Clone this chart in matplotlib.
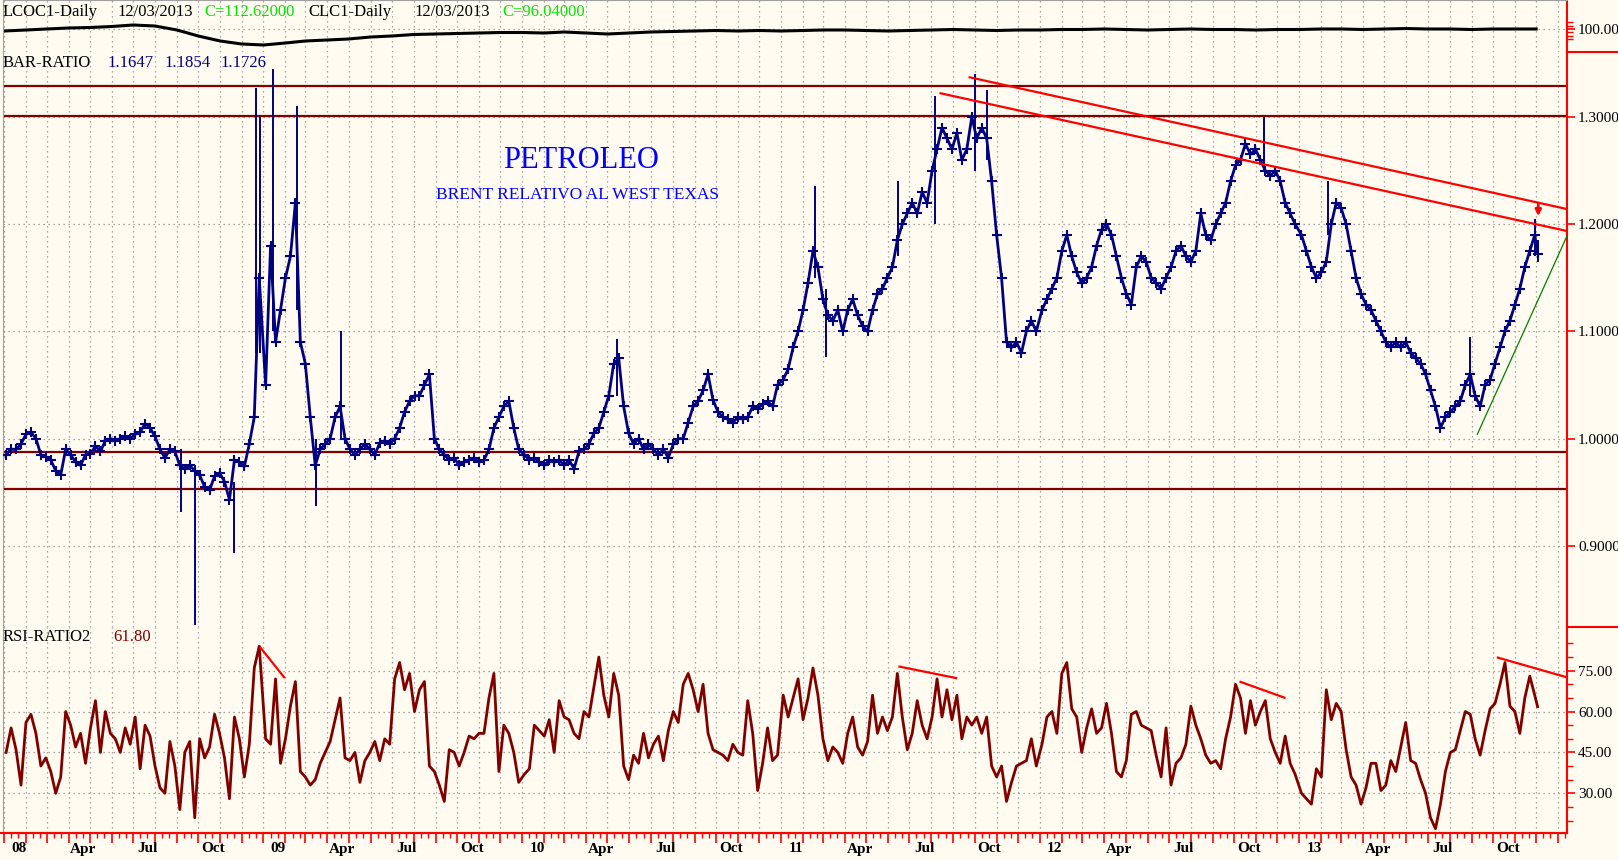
import numpy as np
import pandas as pd
import matplotlib
matplotlib.use("Agg")
import matplotlib.pyplot as plt
import matplotlib.dates as mdates
from matplotlib.lines import Line2D
from matplotlib.transforms import blended_transform_factory

plt.rcParams['font.family'] = ['Liberation Serif', 'DejaVu Serif']

BG = '#fffbf0'
NAVY = '#000080'
MAROON = '#800000'
RED = '#ff0000'
GREEN = '#00e600'

# ---- datos semanales (cierre del ratio Brent / WTI) ----
ratio_2008 = [0.985, 0.99, 0.99, 0.995, 1.004, 1.006, 1.0, 0.985, 0.983, 0.98,
              0.97, 0.966, 0.99, 0.985, 0.978, 0.975, 0.985, 0.986, 0.993, 0.988,
              0.998, 1.0, 0.998, 1.0, 1.002, 1.0, 1.004, 1.006, 1.014, 1.01,
              1.002, 0.99, 0.982, 0.99, 0.988, 0.975, 0.972, 0.975, 0.97, 0.966,
              0.955, 0.952, 0.965, 0.968, 0.96, 0.943, 0.98, 0.978, 0.974, 0.995,
              1.02, 1.15]
ratio_2009 = [1.05, 1.18, 1.09, 1.12, 1.15, 1.17, 1.22, 1.09, 1.07, 1.02,
              0.975, 0.99, 0.995, 1.0, 1.02, 1.03, 1.0, 0.99, 0.985, 0.99,
              0.995, 0.99, 0.985, 0.996, 0.998, 0.995, 1.0, 1.01, 1.025, 1.035,
              1.04, 1.04, 1.05, 1.06, 1.0, 0.99, 0.985, 0.98, 0.982, 0.975,
              0.978, 0.98, 0.982, 0.978, 0.98, 0.99, 1.01, 1.02, 1.03, 1.035,
              1.01, 0.99]
ratio_2010 = [0.985, 0.98, 0.982, 0.978, 0.975, 0.98, 0.978, 0.98, 0.975, 0.98,
              0.972, 0.988, 0.99, 0.995, 1.005, 1.01, 1.025, 1.04, 1.07, 1.075,
              1.03, 1.005, 0.995, 1.0, 0.99, 0.995, 0.99, 0.985, 0.99, 0.982,
              0.995, 1.0, 1.0, 1.015, 1.03, 1.035, 1.045, 1.06, 1.036, 1.025,
              1.02, 1.018, 1.015, 1.02, 1.018, 1.02, 1.03, 1.028, 1.032, 1.035,
              1.03, 1.05]
ratio_2011 = [1.055, 1.065, 1.085, 1.1, 1.12, 1.145, 1.175, 1.16, 1.13, 1.115,
              1.11, 1.12, 1.1, 1.12, 1.13, 1.115, 1.105, 1.1, 1.12, 1.135,
              1.14, 1.15, 1.16, 1.185, 1.2, 1.21, 1.22, 1.21, 1.23, 1.22,
              1.25, 1.27, 1.29, 1.28, 1.27, 1.285, 1.26, 1.27, 1.30, 1.28,
              1.29, 1.28, 1.24, 1.19, 1.15, 1.09, 1.085, 1.09, 1.08, 1.1,
              1.11, 1.1]
ratio_2012 = [1.12, 1.13, 1.14, 1.15, 1.175, 1.19, 1.17, 1.155, 1.145, 1.15,
              1.16, 1.18, 1.195, 1.2, 1.19, 1.17, 1.15, 1.135, 1.125, 1.16,
              1.17, 1.165, 1.15, 1.145, 1.14, 1.15, 1.16, 1.175, 1.18, 1.17,
              1.165, 1.175, 1.21, 1.19, 1.185, 1.2, 1.21, 1.22, 1.24, 1.255,
              1.26, 1.275, 1.265, 1.27, 1.26, 1.25, 1.245, 1.25, 1.24, 1.22,
              1.21, 1.2]
ratio_2013 = [1.19, 1.175, 1.16, 1.15, 1.155, 1.165, 1.2, 1.22, 1.215, 1.2,
              1.175, 1.15, 1.135, 1.125, 1.12, 1.11, 1.1, 1.09, 1.085, 1.09,
              1.085, 1.09, 1.08, 1.075, 1.07, 1.06, 1.045, 1.03, 1.01, 1.02,
              1.025, 1.03, 1.035, 1.05, 1.06, 1.04, 1.03, 1.05, 1.055, 1.07,
              1.085, 1.1, 1.11, 1.125, 1.14, 1.16, 1.175, 1.19]
last_date = '2013-12-03'
last_low, last_high, last_close = 1.1647, 1.1854, 1.1726

# barras con rango amplio (máximo / mínimo)
spike_dates = ['2008-09-06', '2008-09-26', '2008-11-20', '2008-12-22', '2008-12-27',
               '2009-01-15', '2009-02-17', '2009-03-16', '2009-04-20', '2010-05-14',
               '2011-02-18', '2011-03-05', '2011-06-15', '2011-08-06', '2011-10-01',
               '2011-10-19', '2012-11-12', '2013-02-10', '2013-08-29', '2013-11-29']
spike_low = [0.932, 0.826, 0.893, 1.08, 1.08, 1.10, 1.12, 0.937, 1.00, 1.04,
             1.15, 1.076, 1.17, 1.20, 1.25, 1.26, 1.25, 1.19, 1.04, 1.17]
spike_high = [0.99, 0.975, 0.96, 1.327, 1.30, 1.345, 1.31, 1.0, 1.10, 1.093,
              1.236, 1.14, 1.24, 1.32, 1.34, 1.325, 1.30, 1.24, 1.095, 1.205]

# ---- RSI semanal ----
rsi_2008 = [45, 54, 46, 33, 56, 59, 52, 40, 43, 38, 30, 36, 60, 55, 47, 52, 41, 54,
            64, 45, 60, 52, 50, 45, 54, 48, 58, 39, 55, 51, 40, 32, 30, 49, 40, 24,
            45, 49, 21, 50, 43, 47, 59, 52, 43, 28, 58, 50, 36, 48, 76, 84]
rsi_2009 = [50, 48, 72, 41, 50, 62, 71, 38, 36, 33, 35, 41, 45, 49, 57, 65, 43, 42,
            45, 34, 42, 45, 49, 42, 50, 48, 72, 78, 68, 74, 60, 68, 71, 40, 38, 33,
            27, 46, 45, 40, 45, 51, 50, 52, 52, 65, 74, 38, 55, 52, 45, 34]
rsi_2010 = [37, 39, 55, 53, 51, 57, 45, 64, 58, 57, 52, 50, 60, 58, 69, 80, 66, 58,
            74, 66, 40, 35, 44, 41, 52, 43, 48, 51, 42, 53, 60, 56, 70, 74, 68, 60,
            70, 52, 46, 45, 44, 42, 48, 45, 44, 64, 52, 31, 41, 54, 42, 44]
rsi_2011 = [66, 58, 65, 72, 57, 65, 76, 66, 50, 42, 47, 45, 41, 52, 58, 47, 44, 49,
            66, 52, 58, 53, 58, 74, 58, 46, 52, 64, 55, 50, 58, 72, 58, 68, 57, 66,
            50, 58, 55, 58, 52, 58, 40, 36, 40, 27, 34, 40, 41, 42, 50, 40]
rsi_2012 = [48, 58, 60, 52, 74, 78, 61, 58, 45, 54, 61, 52, 54, 63, 52, 38, 36, 42,
            59, 60, 55, 54, 53, 44, 36, 54, 33, 41, 43, 48, 62, 55, 50, 44, 41, 42,
            39, 50, 58, 70, 65, 52, 64, 55, 60, 64, 50, 45, 41, 51, 41, 37]
rsi_2013 = [30, 28, 26, 39, 36, 68, 57, 63, 60, 46, 36, 33, 26, 32, 41, 41, 31, 33,
            42, 38, 47, 56, 42, 41, 35, 30, 21, 17, 26, 38, 45, 46, 53, 60, 59, 50,
            44, 53, 61, 63, 70, 78, 62, 60, 52, 65, 73, 66]
rsi_last = 61.80

# ---- panel superior (LCOC1 / CLC1), mensual ----
top_vals = [99.0, 99.5, 100.0, 100.5, 100.75, 101.25, 102.0, 101.5, 99.5, 96.5, 94.0, 92.5,
            92.0, 93.0, 94.0, 94.5, 95.0, 96.0, 96.5, 97.25, 97.5, 97.75, 98.0, 98.25,
            98.25, 98.0, 98.5, 98.0, 97.5, 98.0, 98.5, 98.75, 99.0, 99.25, 99.0, 99.25,
            99.0, 99.25, 99.5, 99.5, 99.25, 99.0, 99.25, 99.5, 99.75, 99.5, 99.25, 99.5,
            99.5, 99.75, 99.75, 100.0, 99.75, 99.5, 99.75, 100.0, 99.75, 99.75, 99.5, 99.75,
            99.75, 100.0, 100.0, 99.75, 100.0, 100.25, 100.0, 100.0, 99.75, 100.0, 100.0, 100.0]

# niveles horizontales y líneas de tendencia
h_levels = [1.3286, 1.3005, 0.9875, 0.953]
upper_trend = (['2011-09-24', '2014-01-13'], [1.337, 1.2142])
lower_trend = (['2011-08-14', '2014-01-13'], [1.3221, 1.1937])
green_trend = (['2013-09-09', '2014-01-13'], [1.004, 1.1883])
rsi_trends = [(['2008-12-28', '2009-01-30'], [83.4, 72.6]),
              (['2011-06-17', '2011-09-05'], [76.5, 72.3]),
              (['2012-10-10', '2012-12-11'], [70.9, 65.1]),
              (['2013-10-08', '2014-01-13'], [79.8, 72.6])]

years = [2008, 2009, 2010, 2011, 2012, 2013]
ratio_years = [ratio_2008, ratio_2009, ratio_2010, ratio_2011, ratio_2012, ratio_2013]
rsi_years = [rsi_2008, rsi_2009, rsi_2010, rsi_2011, rsi_2012, rsi_2013]

dates = []
ratio = []
rsi = []
for yr, rv, sv in zip(years, ratio_years, rsi_years):
    dates.extend(pd.date_range(f'{yr}-01-04', periods=len(rv), freq='7D'))
    ratio.extend(rv)
    rsi.extend(sv)
dates.append(pd.Timestamp(last_date))
ratio.append(last_close)
rsi.append(rsi_last)
dates = pd.DatetimeIndex(dates)
top_dates = pd.date_range('2008-01-01', periods=len(top_vals), freq='MS')

# ---- figura ----
W, H = 1618, 860
fig = plt.figure(figsize=(W / 100, H / 100), dpi=100, facecolor=BG)


def fx(px):
    return px / W


def fy(py):
    return 1 - py / H


L, R = 3, 1567
ax_top = fig.add_axes([fx(L), fy(52), fx(R - L), 52 / H])
ax = fig.add_axes([fx(L), fy(627), fx(R - L), (627 - 52) / H], sharex=ax_top)
ax_rsi = fig.add_axes([fx(L), fy(833), fx(R - L), (833 - 627) / H], sharex=ax_top)

x0 = mdates.date2num(pd.Timestamp('2008-01-01'))
xlim = (x0 - 1.4, x0 + 2204.5)

grid_kw = dict(color='#8c8c8c', linestyle=(0, (1, 3)), linewidth=0.9)
for a in (ax_top, ax, ax_rsi):
    a.set_facecolor(BG)
    a.set_xlim(xlim)
    a.xaxis.set_major_locator(mdates.MonthLocator())
    a.xaxis.set_minor_locator(mdates.MonthLocator(bymonthday=[11, 21]))
    a.grid(True, which='major', axis='both', **grid_kw)
    a.yaxis.tick_right()
    a.tick_params(axis='y', which='both', colors=RED, labelcolor='black',
                  labelsize=11, direction='out', pad=2)
    a.tick_params(axis='y', which='major', length=6, width=1.2)
    a.tick_params(axis='y', which='minor', length=4, width=1.0)
    a.spines['right'].set_color(RED)
    a.spines['right'].set_linewidth(1.5)
    a.spines['left'].set_color('#a0a0a0')
    a.spines['top'].set_visible(False)
    a.spines['bottom'].set_visible(False)
    a.tick_params(axis='x', which='both', labelbottom=False, length=0)

# panel superior
ax_top.plot(top_dates, top_vals, color='black', lw=2.2)
ax_top.set_ylim(88.5, 114.5)
ax_top.set_yticks([100])
ax_top.set_yticks([95, 96.67, 98.33, 101.67, 103.33], minor=True)
ax_top.yaxis.set_major_formatter(plt.FormatStrFormatter('%.2f'))
ax_top.spines['top'].set_visible(True)
ax_top.spines['top'].set_color('#a0a0a0')

# panel principal
for lv in h_levels:
    ax.axhline(lv, color=MAROON, lw=1.6, zorder=2)
ax.vlines(pd.to_datetime(spike_dates), spike_low, spike_high, color=NAVY, lw=1.4, zorder=3)
ax.vlines(pd.Timestamp(last_date), last_low, last_high, color=NAVY, lw=1.4, zorder=3)
ax.plot(dates, ratio, color=NAVY, lw=2.0, marker='+', ms=6.5, mew=1.5, zorder=3)
ax.set_ylim(0.8243, 1.3606)
ax.set_yticks([0.9, 1.0, 1.1, 1.2, 1.3])
ax.yaxis.set_major_formatter(plt.FormatStrFormatter('%.4f'))
for xs, ys in (upper_trend, lower_trend):
    ax.plot(pd.to_datetime(xs), ys, color=RED, lw=1.6, zorder=4)
ax.plot(pd.to_datetime(green_trend[0]), green_trend[1], color='#008000', lw=0.9, zorder=4)
ax.annotate('', xy=(pd.Timestamp('2013-12-04'), 1.205), xytext=(pd.Timestamp('2013-12-04'), 1.222),
            arrowprops=dict(arrowstyle='-|>', color=RED, lw=1.8, mutation_scale=9), zorder=5)

# panel RSI
ax_rsi.plot(dates, rsi, color=MAROON, lw=2.0)
for xs, ys in rsi_trends:
    ax_rsi.plot(pd.to_datetime(xs), ys, color=RED, lw=1.6)
ax_rsi.set_ylim(15.42, 91.04)
ax_rsi.set_yticks([30, 45, 60, 75])
ax_rsi.set_yticks([20, 25, 35, 40, 50, 55, 65, 70, 80, 85], minor=True)
ax_rsi.yaxis.set_major_formatter(plt.FormatStrFormatter('%.2f'))
ax_rsi.spines['bottom'].set_visible(True)
ax_rsi.spines['bottom'].set_color(RED)
ax_rsi.spines['bottom'].set_linewidth(1.5)
ax_rsi.tick_params(axis='x', which='major', length=7, width=1.2, colors=RED, direction='out')
ax_rsi.tick_params(axis='x', which='minor', length=3.5, width=1.0, colors=RED, direction='out')

# etiquetas del eje temporal
trans = blended_transform_factory(ax_rsi.transData, fig.transFigure)
for m in pd.date_range('2008-01-01', '2013-10-01', freq='QS'):
    lab = m.strftime('%y') if m.month == 1 else m.strftime('%b')
    ax_rsi.text(mdates.date2num(m + pd.Timedelta(days=21)), fy(849), lab, transform=trans,
                ha='center', va='center', fontsize=11, fontweight='bold', clip_on=False)

# separadores rojos a la derecha y bordes
for py in (52, 627):
    fig.add_artist(Line2D([fx(R), 1], [fy(py), fy(py)], color=RED, lw=1.5))
fig.add_artist(Line2D([0, fx(R)], [fy(833), fy(833)], color=RED, lw=1.5))

# textos de cabecera
txt_kw = dict(va='center', fontsize=12)
fig.text(fx(3), fy(12), 'LCOC1-Daily', color='black', **txt_kw)
fig.text(fx(117), fy(12), '12/03/2013', color='black', **txt_kw)
fig.text(fx(204), fy(12), 'C=112.62000', color=GREEN, **txt_kw)
fig.text(fx(308), fy(12), 'CLC1-Daily', color='black', **txt_kw)
fig.text(fx(414), fy(12), '12/03/2013', color='black', **txt_kw)
fig.text(fx(502), fy(12), 'C=96.04000', color=GREEN, **txt_kw)

fig.text(fx(3), fy(63), 'BAR-RATIO', color='black', **txt_kw)
fig.text(fx(107), fy(63), '1.1647', color=NAVY, **txt_kw)
fig.text(fx(164), fy(63), '1.1854', color=NAVY, **txt_kw)
fig.text(fx(220), fy(63), '1.1726', color=NAVY, **txt_kw)

fig.text(fx(3), fy(637), 'RSI-RATIO2', color='black', **txt_kw)
fig.text(fx(113), fy(637), '61.80', color=MAROON, **txt_kw)

fig.text(fx(581), fy(161), 'PETROLEO', color='#0000ff', ha='center', va='center', fontsize=22)
fig.text(fx(578), fy(195), 'BRENT RELATIVO AL WEST TEXAS', color='#0000ff',
         ha='center', va='center', fontsize=12.5)

fig.savefig('out.png', dpi=100, facecolor=BG)
